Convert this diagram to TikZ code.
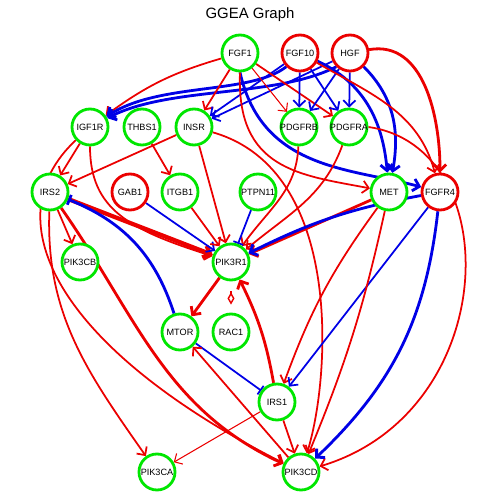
\documentclass[tikz,border=0pt]{standalone}
\usepackage{fontspec}
\setmainfont{Liberation Sans}
\usetikzlibrary{arrows.meta}

\definecolor{ggred}{RGB}{235,0,0}
\definecolor{gggreen}{RGB}{0,230,0}
\definecolor{ggblue}{RGB}{0,0,230}

\pgfdeclarelayer{edges}
\pgfsetlayers{edges,main}

\begin{document}
\begin{tikzpicture}[x=0.02cm, y=0.02cm,
  gene/.style={circle, draw=gggreen, line width=1.6pt, fill=white,
    minimum size=0.72cm, inner sep=0pt,
    label={[font=\fontsize{5.2}{6}\selectfont, inner sep=0pt]center:#1}},
  redgene/.style={gene=#1, draw=ggred},
  act/.style={draw=ggred, line width=1pt, -{Straight Barb[length=3.5pt,width=7pt]}},
  inh/.style={draw=ggblue, line width=1pt, -{Straight Barb[length=3.5pt,width=7pt]}},
  blk/.style={draw=ggblue, line width=1pt, -{Bar[width=6pt]}},
  slim/.style={line width=0.6pt},
  wide/.style={line width=1.6pt},
  wider/.style={line width=2.4pt}]

  \useasboundingbox (0,0) rectangle (500,500);
  \node[font=\fontsize{8.5}{10}\selectfont] (title) at (250,485) {GGEA Graph};

  \node[gene=FGF1] (fgf1) at (240,447) {};
  \node[redgene=FGF10] (fgf10) at (300,447) {};
  \node[redgene=HGF] (hgf) at (350,447) {};

  \node[gene=IGF1R] (igf1r) at (90,373) {};
  \node[gene=THBS1] (thbs1) at (142,373) {};
  \node[gene=INSR] (insr) at (194,373) {};
  \node[gene=PDGFRB] (pdgfrb) at (299,373) {};
  \node[gene=PDGFRA] (pdgfra) at (349,373) {};

  \node[gene=IRS2] (irs2) at (50,308) {};
  \node[redgene=GAB1] (gab1) at (130,308) {};
  \node[gene=ITGB1] (itgb1) at (180,308) {};
  \node[gene=PTPN11] (ptpn11) at (258,308) {};
  \node[gene=MET] (met) at (389,308) {};
  \node[redgene=FGFR4] (fgfr4) at (440,308) {};

  \node[gene=PIK3CB] (pik3cb) at (80,238) {};
  \node[gene=PIK3R1] (pik3r1) at (231,238) {};
  \node[gene=MTOR] (mtor) at (180,168) {};
  \node[gene=RAC1] (rac1) at (231,168) {};
  \node[gene=IRS1] (irs1) at (277,98) {};
  \node[gene=PIK3CA] (pik3ca) at (157,28) {};
  \node[gene=PIK3CD] (pik3cd) at (301,28) {};

  \begin{pgfonlayer}{edges}
  % ligands
  \draw[act] (fgf1) to[bend right=10] (igf1r);
  \draw[inh, wide] (fgf10.south west) .. controls (250,405) and (160,418) .. (igf1r);
  \draw[inh, wide] (hgf.south west) .. controls (275,402) and (170,414) .. (igf1r);
  \draw[act] (fgf1) -- (insr);
  \draw[inh] (fgf10) -- (insr);
  \draw[inh] (hgf) -- (insr);
  \draw[act, slim] (fgf1) -- (pdgfrb);
  \draw[act] (fgf1) -- (pdgfra);
  \draw[inh] (fgf10) -- (pdgfrb);
  \draw[inh] (fgf10) -- (pdgfra);
  \draw[inh] (hgf) -- (pdgfrb);
  \draw[inh] (hgf) -- (pdgfra);
  \draw[inh, wide] (fgf10) to[out=-25,in=95] (met);
  \draw[inh, wide] (hgf) to[out=-45,in=80] (met);
  \draw[inh, wide] (fgf1.south) .. controls (262,330) and (350,332) .. (fgfr4);
  \draw[act] (fgf1.south) .. controls (236,330) and (300,325) .. (met);
  \draw[act] (fgf10) to[out=-30,in=105] (fgfr4);
  \draw[act, wide] (hgf) to[out=10,in=90] (fgfr4);

  % receptors
  \draw[act] (igf1r) -- (irs2);
  \draw[act] (igf1r.south) .. controls (90,290) and (130,270) .. (pik3r1);
  \draw[act] (igf1r) .. controls (-10,280) and (60,150) .. (pik3cd);
  \draw[act] (thbs1) -- (itgb1);
  \draw[act] (insr) -- (irs2);
  \draw[act] (insr) -- (pik3r1);
  \draw[act] (insr) .. controls (345,330) and (330,120) .. (pik3cd);
  \draw[act] (pdgfrb) to[out=-92,in=55] (pik3r1);
  \draw[act] (pdgfra) to[out=-110,in=40] (pik3r1);
  \draw[act] (pdgfra.east) .. controls +(140,-20) and +(200,60) .. (pik3cd);

  \draw[act, wider] (irs2) -- (pik3r1);
  \draw[act] (irs2) -- (pik3cb);
  \draw[act] (irs2) to[out=-92,in=125] (pik3ca);
  \draw[act, wide] (irs2) to[out=-55,in=155] (pik3cd);
  \draw[inh] (gab1) -- (pik3r1);
  \draw[act] (itgb1) -- (pik3r1);
  \draw[blk] (ptpn11) -- (pik3r1);
  \draw[act, wide] (met) -- (pik3r1);
  \draw[inh, wide] (fgfr4) to[bend right=8] (pik3r1);
  \draw[act] (met) to[bend right=8] (irs1);
  \draw[inh] (fgfr4) -- (irs1);
  \draw[act] (met) to[bend left=5] (pik3cd);
  \draw[inh, wide] (fgfr4) to[bend left=20] (pik3cd);

  % downstream
  \draw[act, wide] (irs1) to[bend right=8] (pik3r1);
  \draw[act] (irs1) -- (pik3cd);
  \draw[act, slim] (irs1) -- (pik3ca);
  \draw[act, wide] (pik3r1) -- (mtor);
  \draw[blk] (mtor) -- (irs1);
  \draw[blk, wide] (mtor) to[bend right=25] (irs2);
  \draw[act] (pik3cd) -- (mtor);
  \draw[draw=ggred, line width=0.8pt, -{Diamond[open,length=7pt,width=4pt]},
    shorten <=0.2cm, shorten >=0.16cm] (pik3r1) -- (rac1);
  \end{pgfonlayer}

\end{tikzpicture}
\end{document}
